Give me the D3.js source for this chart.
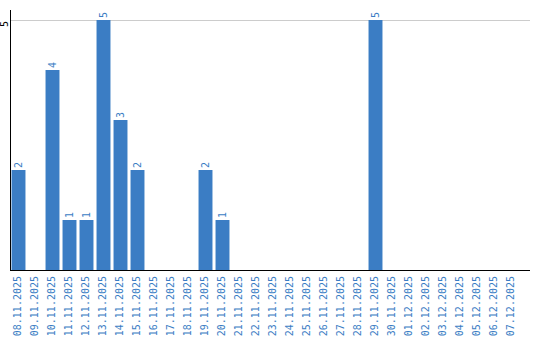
<!DOCTYPE html>
<html>
<head>
<meta charset="utf-8">
<script src="https://cdn.jsdelivr.net/npm/d3@7"></script>
<style>
  body { margin: 0; background: #fff; }
  svg { display: block; }
  .lbl { font-family: "DejaVu Sans Mono", monospace; font-size: 10px; fill: #3a7dc4; }
</style>
</head>
<body>
<svg id="chart" width="540" height="340"></svg>
<script>
// dates shown on the x axis
const dates = [
  "08.11.2025", "09.11.2025", "10.11.2025", "11.11.2025", "12.11.2025",
  "13.11.2025", "14.11.2025", "15.11.2025", "16.11.2025", "17.11.2025",
  "18.11.2025", "19.11.2025", "20.11.2025", "21.11.2025", "22.11.2025",
  "23.11.2025", "24.11.2025", "25.11.2025", "26.11.2025", "27.11.2025",
  "28.11.2025", "29.11.2025", "30.11.2025", "01.12.2025", "02.12.2025",
  "03.12.2025", "04.12.2025", "05.12.2025", "06.12.2025", "07.12.2025"
];
// count per day
const counts = [
  2, 0, 4, 1, 1, 5, 3, 2, 0, 0,
  0, 2, 1, 0, 0, 0, 0, 0, 0, 0,
  0, 5, 0, 0, 0, 0, 0, 0, 0, 0
];
const yTicks = [5];

const data = dates.map((d, i) => ({date: d, value: counts[i]}));

const plot = {left: 10, right: 530, top: 20, bottom: 270};
const barColor = "#3b7dc4";

const svg = d3.select("#chart");

const x = d3.scaleBand().domain(dates).range([plot.left, plot.left + 510]).paddingInner(0.18).paddingOuter(0.09);
const y = d3.scaleLinear().domain([0, 5]).range([plot.bottom, plot.top]);

// gridline
svg.selectAll(".grid")
  .data(yTicks)
  .enter().append("line")
  .attr("x1", plot.left).attr("x2", plot.right)
  .attr("y1", d => y(d) + 0.5).attr("y2", d => y(d) + 0.5)
  .attr("stroke", "#cccccc");

// bars
svg.selectAll(".bar")
  .data(data.filter(d => d.value > 0))
  .enter().append("rect")
  .attr("class", "bar")
  .attr("x", d => x(d.date))
  .attr("width", x.bandwidth())
  .attr("y", d => y(d.value))
  .attr("height", d => y(0) - y(d.value))
  .attr("fill", barColor);

// value labels
svg.selectAll(".val")
  .data(data.filter(d => d.value > 0))
  .enter().append("text")
  .attr("class", "lbl")
  .attr("transform", d => `translate(${x(d.date) + x.bandwidth() / 2 + 3.5},${y(d.value) - 2}) rotate(-90)`)
  .attr("text-anchor", "start")
  .text(d => d.value);

// x axis
const xAxis = svg.append("g")
  .attr("transform", `translate(0,${plot.bottom})`)
  .call(d3.axisBottom(x).tickSize(0).tickPadding(0));
xAxis.select(".domain").remove();
xAxis.attr("font-family", null).attr("font-size", null);
xAxis.selectAll("text")
  .attr("class", "lbl")
  .attr("fill", null)
  .attr("y", 0).attr("dy", null)
  .attr("text-anchor", "end")
  .attr("transform", "translate(2.5,6) rotate(-90)");
svg.append("line")
  .attr("x1", plot.left).attr("x2", plot.right)
  .attr("y1", plot.bottom + 0.5).attr("y2", plot.bottom + 0.5)
  .attr("stroke", "#000");

// y axis
const yAxis = svg.append("g")
  .attr("transform", `translate(${plot.left},0)`)
  .call(d3.axisLeft(y).tickValues(yTicks).tickFormat(d3.format("d")).tickSize(0).tickPadding(0));
yAxis.select(".domain").remove();
yAxis.attr("font-family", "DejaVu Sans Mono, monospace").attr("font-size", 10);
yAxis.selectAll("text")
  .attr("fill", "#000")
  .attr("x", 0).attr("dy", null)
  .attr("text-anchor", "end")
  .attr("transform", "translate(-2.5,0.5) rotate(-90)");
svg.append("line")
  .attr("x1", plot.left + 0.5).attr("x2", plot.left + 0.5)
  .attr("y1", 10).attr("y2", plot.bottom + 1)
  .attr("stroke", "#000");
</script>
</body>
</html>
